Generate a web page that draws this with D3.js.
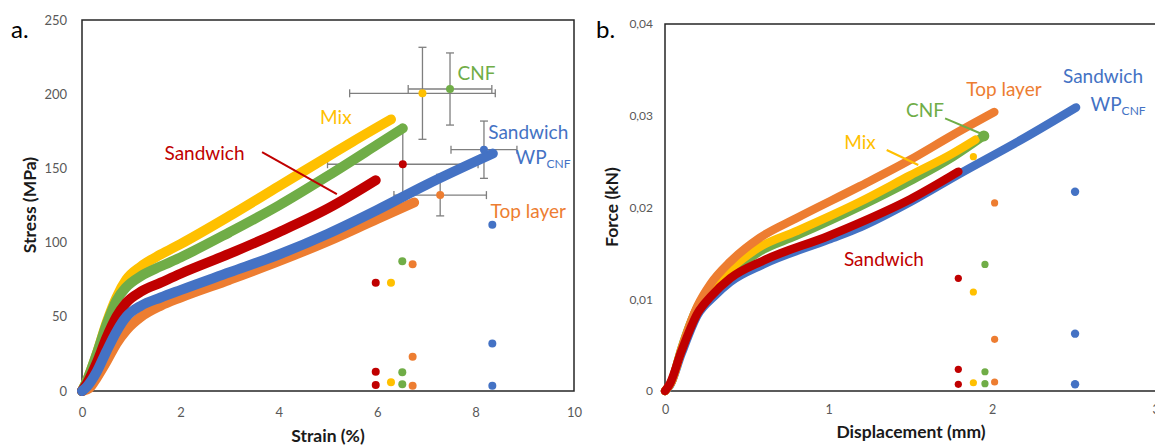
<!DOCTYPE html>
<html><head><meta charset="utf-8">
<script src="https://cdn.jsdelivr.net/npm/d3@7"></script>
<style>
body{margin:0;background:#fff}
svg{display:block}
text{font-family:Lato,"Open Sans","Noto Sans",sans-serif}
</style></head>
<body><svg id="c" width="1155" height="445"></svg>
<script>
// ---------- DATA (panel a: stress-strain) ----------
const ssTop = [[0,0],[0.15,2],[0.3,9],[0.5,20],[0.7,32],[0.9,41],[1.2,50],[1.6,57.5],[2.0,63],[3,75],[4,87.5],[5,101],[6,116],[6.75,127]];
const ssMix = [[0,0],[0.1,7],[0.3,25],[0.5,46],[0.7,63],[0.9,75],[1.2,84],[1.6,92],[2.0,99],[3,118],[4,138],[5,158],[5.5,168],[6.28,183]];
const ssCNF = [[0,0],[0.1,7],[0.3,25],[0.5,45],[0.7,61],[0.9,70],[1.2,77.5],[1.6,84],[2.0,90],[3,107],[4,125],[5,145],[6.0,166],[6.52,177]];
const ssSand = [[0,0],[0.1,5],[0.3,19],[0.5,36],[0.7,50],[0.9,59.5],[1.2,67],[1.6,73],[2.0,79],[3,92.5],[4,107],[5,123],[5.97,142]];
const ssWP = [[0,0],[0.1,3],[0.3,13],[0.5,27],[0.7,40],[0.9,50],[1.2,57.5],[1.6,63],[2.0,68],[3,80],[4,92],[5,106],[6,122],[7,139],[8.35,160]];

// mean points with error bars: [strain, stress, strainErr, stressErr]
const errMix = [6.92, 200.6, 1.48, 31];
const errCNF = [7.48, 203.5, 0.85, 24.3];
const errSand = [6.52, 152.8, 1.53, 24];
const errWP = [8.17, 162.6, 0.67, 19.3];
const errTop = [7.28, 132, 0.94, 14];

// individual points
const ptSand = [[5.97,73],[5.97,13],[5.97,4]];
const ptMix = [[6.28,73],[6.28,5.9]];
const ptCNF = [[6.51,87.4],[6.51,12.6],[6.51,4.5]];
const ptTop = [[6.72,85.4],[6.72,23],[6.72,3.6]];
const ptWP = [[8.34,112],[8.34,32],[8.34,3.6]];

const strainTicks = [0,2,4,6,8,10];
const stressTicks = [0,50,100,150,200,250];

// ---------- DATA (panel b: force-displacement) ----------
const fdTop = [[0,0],[0.04,0.001],[0.1,0.0045],[0.2,0.0093],[0.28,0.0117],[0.4,0.0141],[0.58,0.0167],[0.8,0.0188],[1.19,0.0223],[1.5,0.0252],[1.76,0.0279],[2.014,0.0304]];
const fdMix = [[0,0],[0.04,0.001],[0.1,0.0045],[0.2,0.0092],[0.28,0.0113],[0.4,0.0133],[0.58,0.0157],[0.8,0.0174],[1.19,0.0206],[1.5,0.0235],[1.76,0.0259],[1.9,0.0274]];
const fdCNF = [[0,0],[0.04,0.001],[0.1,0.0046],[0.2,0.0092],[0.28,0.0111],[0.4,0.0128],[0.58,0.0152],[0.8,0.0169],[1.19,0.0201],[1.5,0.0229],[1.76,0.0255],[1.95,0.0278]];
const fdSand = [[0,0],[0.03,0.0008],[0.1,0.0043],[0.2,0.0085],[0.28,0.0103],[0.4,0.0123],[0.6,0.0142],[1.0,0.0169],[1.2,0.0184],[1.5,0.0209],[1.794,0.0239]];
const fdWP = [[0,0],[0.03,0.0006],[0.1,0.0040],[0.2,0.0083],[0.3,0.0103],[0.4,0.0119],[0.6,0.0138],[1.0,0.0165],[1.2,0.0179],[1.5,0.0206],[1.794,0.0236],[2.2,0.0276],[2.514,0.0309]];

const fpSand = [[1.794,0.01228],[1.794,0.00236],[1.794,0.00073]];
const fpMix = [[1.886,0.02554],[1.886,0.01079],[1.886,0.0009]];
const fpCNF = [[1.957,0.0138],[1.957,0.0021],[1.957,0.0008]];
const fpTop = [[2.016,0.0205],[2.016,0.00563],[2.016,0.00098]];
const fpWP = [[2.508,0.02172],[2.508,0.00625],[2.508,0.00073]];

const dispTicks = [0,1,2,3];
const forceTicks = [0,0.01,0.02,0.03,0.04];
const forceTickLabels = ["0","0,01","0,02","0,03","0,04"];

// ---------- STYLE ----------
const C = {top:"#ED7D31", mix:"#FFC000", cnf:"#70AD47", sand:"#C00000", wp:"#4472C4"};
const svg = d3.select("#c");
const axisCol = "#262626", tickCol = "#595959", errCol = "#7F7F7F";
const titleFs = 17.5;

// ================= PANEL A =================
const xA = d3.scaleLinear().domain([0,10]).range([82,574]);
const yA = d3.scaleLinear().domain([0,250]).range([391,20]);
const gA = svg.append("g");

gA.append("text").attr("x",11).attr("y",38).attr("font-size",24).attr("fill","#000").text("a.");

const axA_y = d3.axisLeft(yA).tickValues(stressTicks).tickSize(0).tickPadding(15).tickFormat(d3.format("d"));
gA.append("g").attr("transform",`translate(${xA(0)},0)`).call(axA_y)
  .call(g=>g.select(".domain").remove())
  .selectAll("text").attr("font-size",13).attr("fill",tickCol).style("font-family","Lato");
const axA_x = d3.axisBottom(xA).tickValues(strainTicks).tickSize(0).tickPadding(17).tickFormat(d3.format("d"));
gA.append("g").attr("transform",`translate(0,${yA(0)})`).call(axA_x)
  .call(g=>g.select(".domain").remove())
  .selectAll("text").attr("font-size",13).attr("fill",tickCol).style("font-family","Lato");

gA.append("rect").attr("x",xA(0)).attr("y",yA(250)).attr("width",xA(10)-xA(0)).attr("height",yA(0)-yA(250))
  .attr("fill","none").attr("stroke",axisCol).attr("stroke-width",1.5);

gA.append("text").attr("x",328).attr("y",442).attr("text-anchor","middle")
  .attr("font-size",titleFs).attr("font-weight","bold").attr("fill","#1a1a1a").text("Strain (%)");
gA.append("text").attr("transform",`translate(36,${205}) rotate(-90)`).attr("text-anchor","middle")
  .attr("font-size",titleFs).attr("font-weight","bold").attr("fill","#1a1a1a").text("Stress (MPa)");

// error bars (behind curves)
const cap = 4;
[errMix,errCNF,errSand,errWP,errTop].forEach(e=>{
  const [mx,my,ex,ey]=e;
  const g = gA.append("g").attr("stroke",errCol).attr("stroke-width",1.3);
  g.append("line").attr("x1",xA(mx-ex)).attr("x2",xA(mx+ex)).attr("y1",yA(my)).attr("y2",yA(my));
  g.append("line").attr("x1",xA(mx-ex)).attr("x2",xA(mx-ex)).attr("y1",yA(my)-cap).attr("y2",yA(my)+cap);
  g.append("line").attr("x1",xA(mx+ex)).attr("x2",xA(mx+ex)).attr("y1",yA(my)-cap).attr("y2",yA(my)+cap);
  g.append("line").attr("x1",xA(mx)).attr("x2",xA(mx)).attr("y1",yA(my-ey)).attr("y2",yA(my+ey));
  g.append("line").attr("x1",xA(mx)-cap).attr("x2",xA(mx)+cap).attr("y1",yA(my-ey)).attr("y2",yA(my-ey));
  g.append("line").attr("x1",xA(mx)-cap).attr("x2",xA(mx)+cap).attr("y1",yA(my+ey)).attr("y2",yA(my+ey));
});

const lineA = d3.line().x(d=>xA(d[0])).y(d=>yA(d[1])).curve(d3.curveMonotoneX);
[[ssTop,C.top],[ssMix,C.mix],[ssCNF,C.cnf],[ssSand,C.sand],[ssWP,C.wp]].forEach(([d,c])=>{
  gA.append("path").attr("d",lineA(d)).attr("fill","none").attr("stroke",c)
    .attr("stroke-width",10).attr("stroke-linecap","round").attr("stroke-linejoin","round");
});

[[errMix,C.mix],[errCNF,C.cnf],[errSand,C.sand],[errWP,C.wp],[errTop,C.top]].forEach(([e,c])=>{
  gA.append("circle").attr("cx",xA(e[0])).attr("cy",yA(e[1])).attr("r",4).attr("fill",c);
});
[[ptSand,C.sand],[ptMix,C.mix],[ptCNF,C.cnf],[ptTop,C.top],[ptWP,C.wp]].forEach(([pts,c])=>{
  gA.selectAll(null).data(pts).enter().append("circle")
    .attr("cx",d=>xA(d[0])).attr("cy",d=>yA(d[1])).attr("r",4).attr("fill",c);
});

const fs = 19;
function label(g, x, y, txt, col, anchor="middle"){
  return g.append("text").attr("x",x).attr("y",y).attr("text-anchor",anchor).attr("font-size",fs).attr("fill",col).text(txt);
}
label(gA, xA(5.16), yA(184.6)+7, "Mix", C.mix);
label(gA, xA(8.02), yA(214.5)+7, "CNF", C.cnf);
label(gA, xA(2.49), yA(160.6)+7, "Sandwich", C.sand);
label(gA, xA(9.07), yA(174.7)+7, "Sandwich", C.wp);
{
  const t = gA.append("text").attr("x",xA(9.37)).attr("y",yA(157.9)+7).attr("text-anchor","middle").attr("font-size",fs).attr("fill",C.wp);
  t.append("tspan").text("WP");
  t.append("tspan").attr("font-size",12).attr("dy",4).text("CNF");
}
label(gA, xA(9.07), yA(121.5)+7, "Top layer", C.top);
gA.append("line").attr("x1",xA(3.66)).attr("y1",yA(161)).attr("x2",xA(5.18)).attr("y2",yA(132.7))
  .attr("stroke",C.sand).attr("stroke-width",2);

// ================= PANEL B =================
const xB = d3.scaleLinear().domain([0,3]).range([665,1155.5]);
const yB = d3.scaleLinear().domain([0,0.04]).range([391,24]);
const gB = svg.append("g");

gB.append("text").attr("x",596).attr("y",38).attr("font-size",24).attr("fill","#000").text("b.");

const axB_y = d3.axisLeft(yB).tickValues(forceTicks).tickSize(0).tickPadding(12).tickFormat((d,i)=>forceTickLabels[i]);
gB.append("g").attr("transform",`translate(${xB(0)},0)`).call(axB_y)
  .call(g=>g.select(".domain").remove())
  .selectAll("text").attr("font-size",12).attr("fill",tickCol).style("font-family","Lato");
const axB_x = d3.axisBottom(xB).tickValues(dispTicks).tickSize(0).tickPadding(14).tickFormat(d3.format("d"));
gB.append("g").attr("transform",`translate(0,${yB(0)})`).call(axB_x)
  .call(g=>g.select(".domain").remove())
  .selectAll("text").attr("font-size",12.5).attr("fill",tickCol).style("font-family","Lato");

gB.append("path").attr("d",`M${xB(3)+2},${yB(0.04)}H${xB(0)}V${yB(0)}H${xB(3)+2}`)
  .attr("fill","none").attr("stroke",axisCol).attr("stroke-width",1.5);

gB.append("text").attr("x",911).attr("y",438).attr("text-anchor","middle")
  .attr("font-size",titleFs).attr("font-weight","bold").attr("fill","#1a1a1a").text("Displacement (mm)");
gB.append("text").attr("transform",`translate(618,${207}) rotate(-90)`).attr("text-anchor","middle")
  .attr("font-size",titleFs).attr("font-weight","bold").attr("fill","#1a1a1a").text("Force (kN)");

const lineB = d3.line().x(d=>xB(d[0])).y(d=>yB(d[1])).curve(d3.curveMonotoneX);
[[fdWP,C.wp],[fdCNF,C.cnf],[fdMix,C.mix],[fdTop,C.top],[fdSand,C.sand]].forEach(([d,c])=>{
  gB.append("path").attr("d",lineB(d)).attr("fill","none").attr("stroke",c)
    .attr("stroke-width",8.5).attr("stroke-linecap","round").attr("stroke-linejoin","round");
});
gB.append("circle").attr("cx",xB(fdCNF[fdCNF.length-1][0])).attr("cy",yB(fdCNF[fdCNF.length-1][1])).attr("r",5.5).attr("fill",C.cnf);

[[fpSand,C.sand,3.6],[fpMix,C.mix,3.6],[fpCNF,C.cnf,3.6],[fpTop,C.top,3.6],[fpWP,C.wp,4.2]].forEach(([pts,c,r])=>{
  gB.selectAll(null).data(pts).enter().append("circle")
    .attr("cx",d=>xB(d[0])).attr("cy",d=>yB(d[1])).attr("r",r).attr("fill",c);
});

label(gB, xB(2.073), yB(0.03288)+7, "Top layer", C.top);
label(gB, xB(1.59), yB(0.03063)+7, "CNF", C.cnf);
label(gB, xB(1.193), yB(0.02717)+7, "Mix", C.mix);
label(gB, xB(2.679), yB(0.03433)+7, "Sandwich", C.wp);
{
  const t = gB.append("text").attr("x",xB(2.771)).attr("y",yB(0.03128)+7).attr("text-anchor","middle").attr("font-size",fs).attr("fill",C.wp);
  t.append("tspan").text("WP");
  t.append("tspan").attr("font-size",12).attr("dy",4).text("CNF");
}
label(gB, xB(1.339), yB(0.01435)+7, "Sandwich", C.sand);
gB.append("line").attr("x1",xB(1.713)).attr("y1",yB(0.02972)).attr("x2",xB(1.927)).attr("y2",yB(0.02809))
  .attr("stroke",C.cnf).attr("stroke-width",2);
gB.append("line").attr("x1",xB(1.356)).attr("y1",yB(0.02627)).attr("x2",xB(1.549)).attr("y2",yB(0.02463))
  .attr("stroke",C.mix).attr("stroke-width",2);
</script></body></html>
